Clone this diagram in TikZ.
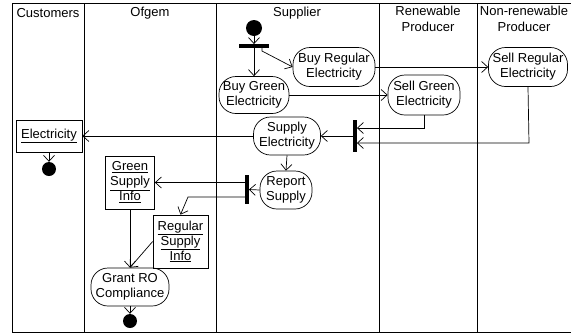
\documentclass[tikz,border=0pt]{standalone}
\usepackage{fontspec}
\setmainfont{Liberation Sans}
\usetikzlibrary{arrows.meta}
\tikzset{
  act/.style={draw, rounded corners=17pt, align=center, inner sep=1pt, line width=0.7pt, font=\fontsize{13}{15}\selectfont},
  obj/.style={draw, align=center, inner sep=1pt, line width=0.7pt, font=\fontsize{13}{15}\selectfont},
  lbl/.style={align=center, inner sep=0pt, font=\fontsize{13}{15.5}\selectfont},
  barnode/.style={fill=black, draw=none, inner sep=0pt},
  dot/.style={circle, fill=black, draw=none, inner sep=0pt},
  flow/.style={draw, line width=0.7pt, -{Straight Barb[length=6pt,width=11pt,line width=0.7pt]}},
  lane/.style={line width=0.9pt}
}
\begin{document}
\begin{tikzpicture}[x=1pt,y=-1pt]
\useasboundingbox (0,0) rectangle (571,333);
% swimlanes
\draw[lane] (571,3) -- (12,3) -- (12,332) -- (571,332);
\foreach \xx in {84,216,379,477} \draw[lane] (\xx,3) -- (\xx,332);
% headers
\node[lbl] (hCust) at (48,13) {Customers};
\node[lbl] (hOfg) at (150,13) {Ofgem};
\node[lbl] (hSup) at (297,13) {Supplier};
\node[lbl,anchor=north] (hRen) at (428,6) {Renewable\\Producer};
\node[lbl,anchor=north] (hNon) at (524,6) {Non-renewable\\Producer};
% nodes
\node[dot, minimum size=16pt] (start) at (254,28) {};
\node[barnode, minimum width=30pt, minimum height=3.5pt] (fork1) at (254,46) {};
\node[act, minimum width=70pt, minimum height=37pt] (buyGreen) at (254,95) {Buy Green\\Electricity};
\node[act, minimum width=82pt, minimum height=39pt] (buyReg) at (334,67) {Buy Regular\\Electricity};
\node[act, minimum width=79pt, minimum height=39pt] (sellReg) at (528,67) {Sell Regular\\Electricity};
\node[act, minimum width=72pt, minimum height=40pt] (sellGreen) at (424,95) {Sell Green\\Electricity};
\node[barnode, minimum width=3.5pt, minimum height=32pt] (join1) at (355,136) {};
\node[act, minimum width=67pt, minimum height=38pt] (supply) at (287,136) {Supply\\Electricity};
\node[obj, minimum width=66pt, minimum height=32pt] (elec) at (49,136) {\underline{Electricity}};
\node[dot, minimum size=14pt] (end1) at (49,169) {};
\node[act, minimum width=52pt, minimum height=38pt] (report) at (286,190) {Report\\Supply};
\node[barnode, minimum width=3.5pt, minimum height=29pt] (fork2) at (247,189.5) {};
\node[obj, minimum width=49pt, minimum height=53pt] (green) at (130,182.5) {\underline{Green}\\\underline{Supply}\\\underline{Info}};
\node[obj, minimum width=55pt, minimum height=53pt] (regular) at (180.5,241.5) {\underline{Regular}\\\underline{Supply}\\\underline{Info}};
\node[act, minimum width=78pt, minimum height=38pt] (grant) at (130,287) {Grant RO\\Compliance};
\node[dot, minimum size=14pt] (end2) at (130,321) {};
% helper coordinates
\coordinate (f1a) at (262,46);
\coordinate (f1b) at (262,51);
\coordinate (sgc) at (424,128);
\coordinate (src) at (529,143);
\coordinate (f2a) at (247,197);
\coordinate (f2b) at (188,197);
% connectors
\draw[flow] (start) -- (fork1.north);
\draw[flow] (fork1.south) -- (buyGreen.north);
\draw[flow] (f1a) -- (f1b) -- (buyReg.west);
\draw[flow] (buyReg.east) -- (sellReg.west);
\draw[flow] (buyGreen.east) -- (sellGreen.west);
\draw[flow] (sellGreen.south) -- (sgc) -- (sgc -| join1.east);
\draw[flow] (sellReg.south) -- (src) -- (src -| join1.east);
\draw[flow] (join1.west) -- (supply.east);
\draw[flow] (supply.west) -- (elec.east);
\draw[flow] (elec.south) -- (end1.north);
\draw[flow] (supply.south) -- (report.north);
\draw[flow] (report.west) -- (fork2.east);
\draw[flow] (fork2.west |- green.east) -- (green.east);
\draw[flow] (f2a) -- (f2b) -- (regular.north);
\draw[flow] (green.south) -- (grant.north);
\draw[flow] (regular.west) -- (grant.north);
\draw[flow] (grant.south) -- (end2.north);
\end{tikzpicture}
\end{document}
